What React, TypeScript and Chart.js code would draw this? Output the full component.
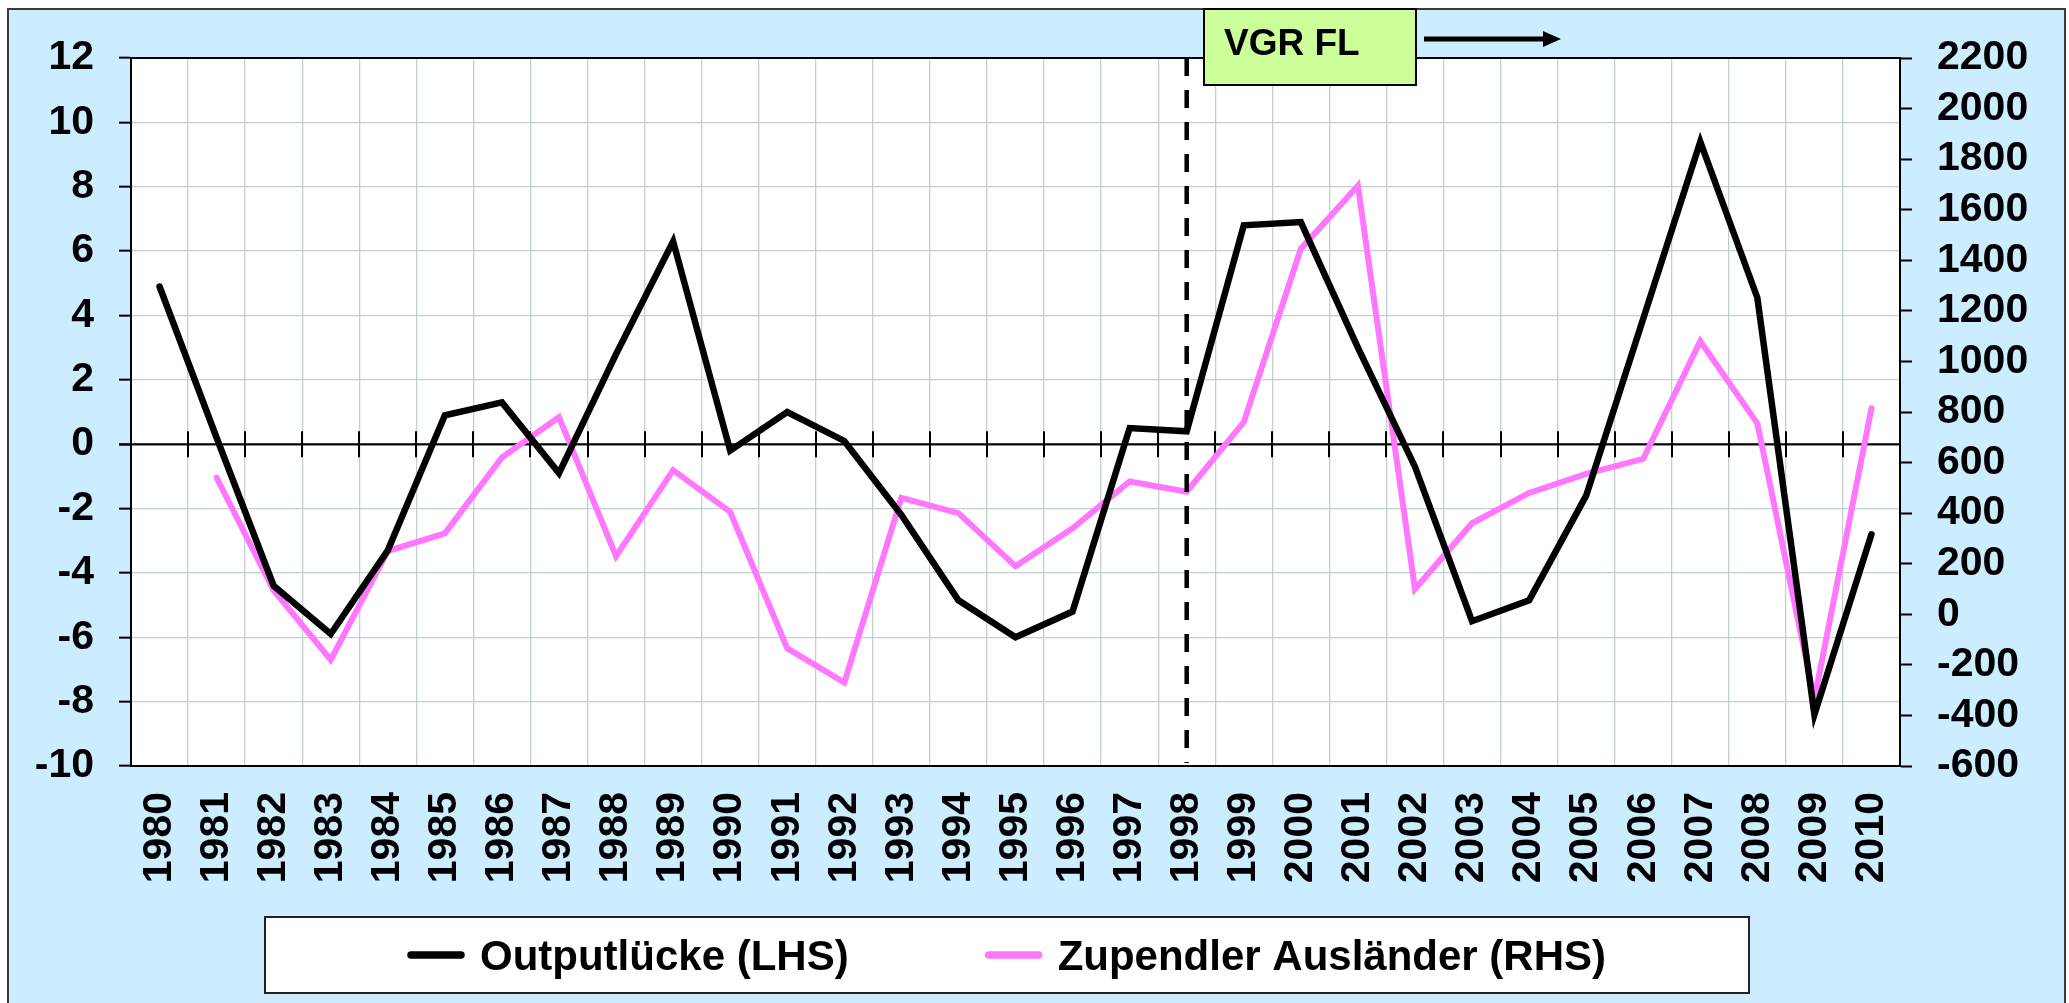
import React, { useEffect, useRef } from 'react';
import { Chart, registerables } from 'chart.js';

Chart.register(...registerables);

// ---------- data ----------
const years = [
  '1980', '1981', '1982', '1983', '1984', '1985', '1986', '1987', '1988', '1989',
  '1990', '1991', '1992', '1993', '1994', '1995', '1996', '1997', '1998', '1999',
  '2000', '2001', '2002', '2003', '2004', '2005', '2006', '2007', '2008', '2009', '2010',
];

// Outputlücke (LHS), in %
const outputGap = [
  4.9, 0.2, -4.4, -5.9, -3.3, 0.9, 1.3, -0.9, 2.8, 6.3,
  -0.2, 1.0, 0.1, -2.2, -4.85, -6.0, -5.2, 0.5, 0.4, 6.8,
  6.9, 3.0, -0.7, -5.5, -4.85, -1.6, 3.9, 9.4, 4.55, -8.4, -2.8,
];

// Zupendler Ausländer (RHS), persons
const commuters = [
  null, 540, 95, -180, 250, 320, 620, 780, 230, 570,
  405, -135, -270, 460, 400, 190, 340, 525, 485, 760,
  1445, 1695, 100, 360, 480, 555, 615, 1080, 755, -335, 815,
];

const seriesLabels = ['Outputlücke (LHS)', 'Zupendler Ausländer (RHS)'];
const seriesColors = ['#000000', '#FF77FF'];

const leftAxis = { min: -10, max: 12, step: 2 };
const rightAxis = { min: -600, max: 2200, step: 200 };

const markerYear = '1998';
const markerLabel = 'VGR FL';

// ---------- styling ----------
const FONT = "'Liberation Sans', Arial, Helvetica, sans-serif";
const GRID = '#C4CFCF';
const FRAME_BG = '#CCECFF';

const decorPlugin = {
  id: 'decor',
  beforeDraw(chart: any) {
    const { ctx, chartArea: a } = chart;
    ctx.save();
    ctx.fillStyle = '#ffffff';
    ctx.fillRect(0, 0, chart.width, chart.height);
    ctx.fillStyle = FRAME_BG;
    ctx.fillRect(8, 9, 2057, chart.height);
    ctx.strokeStyle = '#3a3a3a';
    ctx.lineWidth = 2;
    ctx.beginPath();
    ctx.moveTo(8, chart.height + 2);
    ctx.lineTo(8, 9);
    ctx.lineTo(2065, 9);
    ctx.lineTo(2065, chart.height + 2);
    ctx.stroke();
    ctx.fillStyle = '#ffffff';
    ctx.fillRect(a.left, a.top, a.right - a.left, a.bottom - a.top);
    ctx.restore();
  },
  beforeDatasetsDraw(chart: any) {
    const { ctx } = chart;
    const x = chart.scales.x;
    const y = chart.scales.yL;
    const y0 = y.getPixelForValue(0);
    const n = chart.data.labels.length;
    const step = (x.right - x.left) / n;
    ctx.save();
    ctx.strokeStyle = '#000';
    ctx.lineWidth = 2;
    ctx.beginPath();
    ctx.moveTo(x.left - 12, y0);
    ctx.lineTo(x.right, y0);
    for (let i = 0; i <= n; i++) {
      const px = Math.round(x.left + i * step);
      ctx.moveTo(px, y0 - 13);
      ctx.lineTo(px, y0 + 13);
    }
    ctx.stroke();
    ctx.restore();
  },
  afterDatasetsDraw(chart: any) {
    const { ctx, chartArea: a } = chart;
    const x = chart.scales.x;
    const idx = chart.data.labels.indexOf(markerYear);
    const px = x.getPixelForValue(idx);
    ctx.save();
    // dashed vertical marker
    ctx.strokeStyle = '#000';
    ctx.lineWidth = 4.5;
    ctx.setLineDash([18, 14]);
    ctx.beginPath();
    ctx.moveTo(px, a.top);
    ctx.lineTo(px, a.bottom - 3);
    ctx.stroke();
    ctx.setLineDash([]);
    // plot border
    ctx.lineWidth = 2;
    ctx.strokeRect(a.left, a.top, a.right - a.left, a.bottom - a.top);
    ctx.restore();
  },
  afterDraw(chart: any) {
    const { ctx } = chart;
    ctx.save();
    // VGR FL box
    const bx = 1204, by = 9, bw = 212, bh = 76;
    ctx.fillStyle = '#CCFF99';
    ctx.fillRect(bx, by, bw, bh);
    ctx.strokeStyle = '#000';
    ctx.lineWidth = 2;
    ctx.strokeRect(bx, by, bw, bh);
    ctx.fillStyle = '#000';
    ctx.font = `bold 37px ${FONT}`;
    ctx.textAlign = 'left';
    ctx.textBaseline = 'alphabetic';
    ctx.fillText(markerLabel, 1224, 55);
    // arrow
    ctx.lineWidth = 5;
    ctx.beginPath();
    ctx.moveTo(1424, 39);
    ctx.lineTo(1546, 39);
    ctx.stroke();
    ctx.beginPath();
    ctx.moveTo(1543, 31);
    ctx.lineTo(1561, 39);
    ctx.lineTo(1543, 47);
    ctx.closePath();
    ctx.fill();

    // legend
    const lx = 265, ly = 917, lw = 1484, lh = 76;
    ctx.fillStyle = '#ffffff';
    ctx.fillRect(lx, ly, lw, lh);
    ctx.strokeStyle = '#222';
    ctx.lineWidth = 2;
    ctx.strokeRect(lx, ly, lw, lh);
    ctx.font = `bold 42px ${FONT}`;
    const ds = chart.data.datasets;
    const markerW = 56, gapText = 16, gapItems = 137;
    const widths = ds.map((d: any) => ctx.measureText(d.label).width);
    let total = 0;
    widths.forEach((w: number, i: number) => {
      total += markerW + gapText + w + (i > 0 ? gapItems : 0);
    });
    let cx = lx + lw / 2 - total / 2;
    const cy = 955;
    ds.forEach((d: any, i: number) => {
      ctx.strokeStyle = d.borderColor;
      ctx.lineWidth = 7.5;
      ctx.lineCap = 'round';
      ctx.beginPath();
      ctx.moveTo(cx + 3, cy);
      ctx.lineTo(cx + markerW - 3, cy);
      ctx.stroke();
      ctx.fillStyle = '#000';
      ctx.textBaseline = 'alphabetic';
      ctx.fillText(d.label, cx + markerW + gapText, 970);
      cx += markerW + gapText + widths[i] + gapItems;
    });
    ctx.restore();
  },
};

export default function App() {
  const canvasRef = useRef<HTMLCanvasElement | null>(null);

  useEffect(() => {
    document.body.style.margin = '0';
    const canvas = canvasRef.current;
    if (!canvas) return;
    const tickFont = { family: FONT, size: 41, weight: 'bold' as const };
    const plain = (v: any) => String(v);
    const chart = new Chart(canvas, {
      type: 'line',
      data: {
        labels: years,
        datasets: [
          {
            label: seriesLabels[0],
            data: outputGap,
            borderColor: seriesColors[0],
            backgroundColor: seriesColors[0],
            borderWidth: 6.5,
            pointRadius: 0,
            tension: 0,
            borderCapStyle: 'round',
            yAxisID: 'yL',
            order: 1,
          },
          {
            label: seriesLabels[1],
            data: commuters as any,
            borderColor: seriesColors[1],
            backgroundColor: seriesColors[1],
            borderWidth: 6,
            pointRadius: 0,
            tension: 0,
            borderCapStyle: 'round',
            yAxisID: 'yR',
            order: 2,
          },
        ],
      },
      options: {
        responsive: false,
        devicePixelRatio: 1,
        animation: false,
        layout: { padding: { top: 58, bottom: 107, left: 0, right: 0 } },
        plugins: {
          legend: { display: false },
          tooltip: { enabled: false },
        },
        scales: {
          x: {
            type: 'category',
            offset: true,
            grid: {
              offset: true,
              color: GRID,
              lineWidth: 1.3,
              drawTicks: false,
            },
            border: { display: true, color: '#000', width: 2 },
            ticks: {
              autoSkip: false,
              minRotation: 90,
              maxRotation: 90,
              padding: 26,
              color: '#000',
              font: tickFont,
            },
            afterFit: (s: any) => {
              s.height = 130;
            },
          },
          yL: {
            type: 'linear',
            position: 'left',
            min: leftAxis.min,
            max: leftAxis.max,
            ticks: {
              stepSize: leftAxis.step,
              autoSkip: false,
              color: '#000',
              font: tickFont,
              padding: 25,
              callback: plain,
            },
            grid: {
              color: (c: any) => (c.tick && c.tick.value === 0 ? '#000' : GRID),
              lineWidth: 1.3,
              tickColor: '#000',
              tickLength: 12,
              tickWidth: 2,
            },
            border: { display: true, color: '#000', width: 2 },
            afterFit: (s: any) => {
              s.width = 131;
            },
          },
          yR: {
            type: 'linear',
            position: 'right',
            min: rightAxis.min,
            max: rightAxis.max,
            ticks: {
              stepSize: rightAxis.step,
              autoSkip: false,
              color: '#000',
              font: tickFont,
              padding: 25,
              callback: plain,
            },
            grid: {
              drawOnChartArea: false,
              color: '#000',
              tickColor: '#000',
              tickLength: 12,
              tickWidth: 2,
            },
            border: { display: true, color: '#000', width: 2 },
            afterFit: (s: any) => {
              s.width = 169;
            },
          },
        },
      },
      plugins: [decorPlugin],
    });
    return () => chart.destroy();
  }, []);

  return (
    <div style={{ position: 'absolute', left: 0, top: 0, width: 2069, height: 1003 }}>
      <canvas ref={canvasRef} width={2069} height={1003} style={{ display: 'block' }} />
    </div>
  );
}
